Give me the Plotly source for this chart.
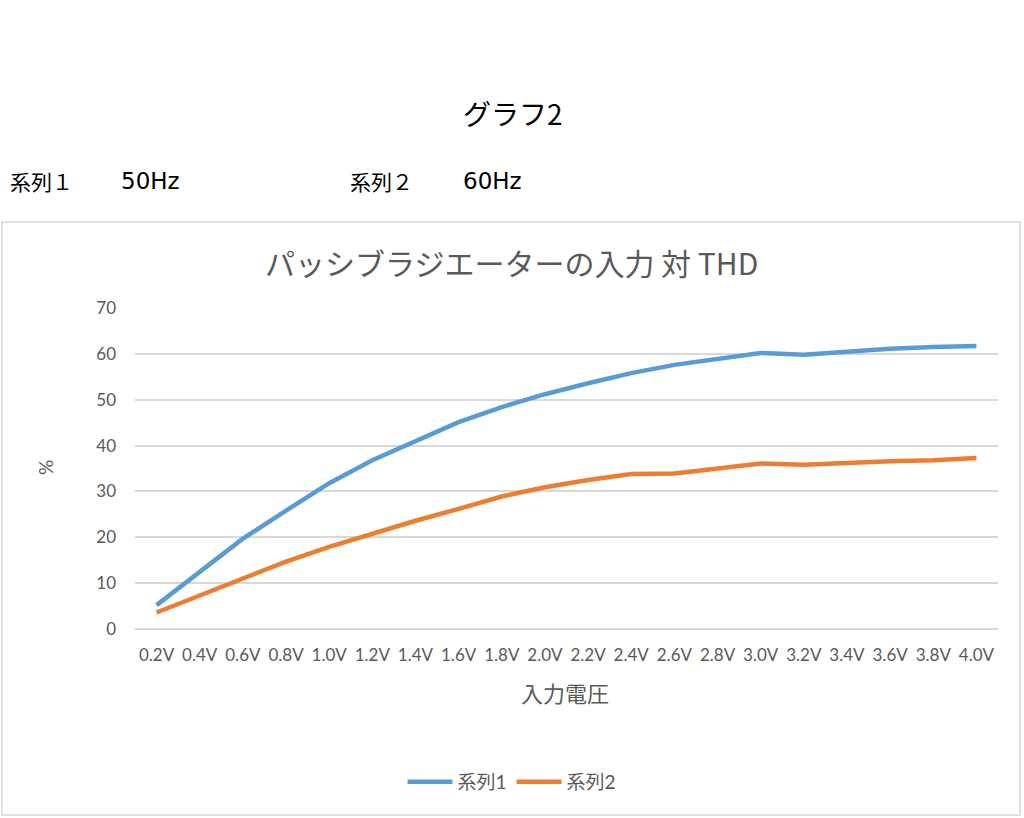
import plotly.graph_objects as go

categories = ["0.2V", "0.4V", "0.6V", "0.8V", "1.0V", "1.2V", "1.4V", "1.6V", "1.8V", "2.0V",
              "2.2V", "2.4V", "2.6V", "2.8V", "3.0V", "3.2V", "3.4V", "3.6V", "3.8V", "4.0V"]
series1 = [5.2, 12.5, 19.7, 25.8, 31.8, 36.8, 41.0, 45.1, 48.4, 51.2,
           53.6, 55.8, 57.6, 59.0, 60.2, 59.8, 60.5, 61.1, 61.5, 61.7]
series2 = [3.6, 7.3, 11.2, 14.7, 17.9, 20.8, 23.6, 26.2, 28.9, 30.9,
           32.5, 33.8, 33.9, 35.0, 36.1, 35.8, 36.3, 36.6, 36.8, 37.3]
series_names = ["系列1", "系列2"]
y_ticks = [0, 10, 20, 30, 40, 50, 60, 70]

W, H = 1024, 818
def px(y):
    return (H - y) / H

FONT = "Lato, 'Noto Sans CJK JP', sans-serif"
JP = "'Noto Sans CJK JP', sans-serif"
HZ = "'DejaVu Sans', 'Noto Sans CJK JP', sans-serif"
GRAY = "#595959"

fig = go.Figure()
fig.add_trace(go.Scatter(x=categories, y=series1, name=series_names[0], mode="lines",
                         line=dict(color="#5B9BD5", width=4.5)))
fig.add_trace(go.Scatter(x=categories, y=series2, name=series_names[1], mode="lines",
                         line=dict(color="#ED7D31", width=4.5)))

fig.update_layout(
    width=W, height=H,
    margin=dict(l=0, r=0, t=0, b=0, pad=0, autoexpand=False),
    paper_bgcolor="white", plot_bgcolor="white",
    showlegend=True,
    legend=dict(orientation="h", x=0.5, xanchor="center", y=px(782), yanchor="middle",
                font=dict(family=FONT, size=19, color=GRAY), bgcolor="rgba(0,0,0,0)",
                itemwidth=45),
    xaxis=dict(domain=[135 / W, 998 / W], type="category", range=[-0.5, 19.5],
               showgrid=False, showline=False, zeroline=False, ticks="",
               tickfont=dict(family=FONT, size=17, color=GRAY), ticklabelstandoff=14,
               fixedrange=True),
    yaxis=dict(domain=[px(629), px(308)], range=[0, 70], tickvals=y_ticks,
               showgrid=True, gridcolor="#D9D9D9", gridwidth=1.5,
               zeroline=True, zerolinecolor="#D9D9D9", zerolinewidth=1.5,
               showline=False, ticks="",
               tickfont=dict(family=FONT, size=17, color=GRAY), ticklabelstandoff=18,
               fixedrange=True),
    shapes=[dict(type="rect", xref="paper", yref="paper",
                 x0=2 / W, x1=1020 / W, y0=px(815), y1=px(222),
                 line=dict(color="#D9D9D9", width=1.5), fillcolor="rgba(0,0,0,0)", layer="below")],
    annotations=[
        dict(text="グラフ2", x=513 / W, y=px(113), xref="paper", yref="paper",
             xanchor="center", yanchor="middle", showarrow=False,
             font=dict(family=JP, size=28, color="black")),
        dict(text="系列１", x=8 / W, y=px(181), xref="paper", yref="paper",
             xanchor="left", yanchor="middle", showarrow=False,
             font=dict(family=JP, size=21, color="black")),
        dict(text="50Hz", x=119 / W, y=px(181), xref="paper", yref="paper",
             xanchor="left", yanchor="middle", showarrow=False,
             font=dict(family=HZ, size=23, color="black")),
        dict(text="系列２", x=348 / W, y=px(181), xref="paper", yref="paper",
             xanchor="left", yanchor="middle", showarrow=False,
             font=dict(family=JP, size=21, color="black")),
        dict(text="60Hz", x=461 / W, y=px(181), xref="paper", yref="paper",
             xanchor="left", yanchor="middle", showarrow=False,
             font=dict(family=HZ, size=23, color="black")),
        dict(text="パッシブラジエーターの入力 対 THD", x=511 / W, y=px(262), xref="paper", yref="paper",
             xanchor="center", yanchor="middle", showarrow=False,
             font=dict(family=JP, size=30, color=GRAY)),
        dict(text="入力電圧", x=565 / W, y=px(692), xref="paper", yref="paper",
             xanchor="center", yanchor="middle", showarrow=False,
             font=dict(family=JP, size=22, color=GRAY)),
        dict(text="%", x=45 / W, y=px(468), xref="paper", yref="paper",
             xanchor="center", yanchor="middle", showarrow=False, textangle=-90,
             font=dict(family=FONT, size=19, color=GRAY)),
    ],
)

fig.write_html("out.html",
               config={"displayModeBar": False},
               post_script="document.body.style.margin='0';document.body.style.padding='0';"
                           "document.body.style.overflow='hidden';")
